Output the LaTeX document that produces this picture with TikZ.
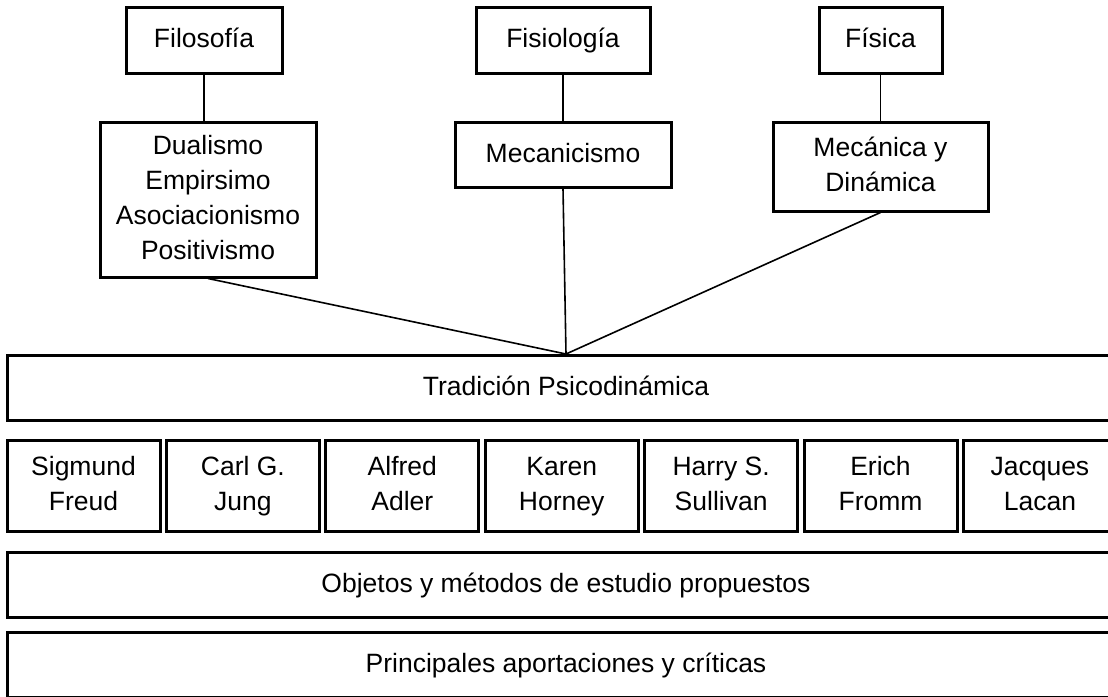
\documentclass[tikz,border=0pt]{standalone}
\usepackage{fontspec}
\setmainfont{Liberation Sans}
\usetikzlibrary{positioning}

\begin{document}
\begin{tikzpicture}[x=1pt,y=-1pt,
  every node/.style = {font=\fontsize{26.5}{35}\selectfont, align=center, inner sep=0pt, text depth=4pt},
  caja/.style = {draw, line width=3pt, minimum height=66pt},
  enlace/.style = {line width=1.6pt}]
		\useasboundingbox (0,0) rectangle (1108,696);
		\clip (0,0) rectangle (1108,696);
		% disciplinas
		\node[caja, minimum width=156pt] (filo) at (204,40) {Filosofía};
		\node[caja, minimum width=174pt] (fisio) at (563,40) {Fisiología};
		\node[caja, minimum width=123pt] (fis) at (880.5,40) {Física};
		% corrientes
		\node[caja, minimum width=216pt, minimum height=155pt] (dual) at (208,199.5)
			{Dualismo\\Empirsimo\\Asociacionismo\\Positivismo};
		\node[caja, minimum width=216pt, minimum height=65pt] (meca) at (563,154.5) {Mecanicismo};
		\node[caja, minimum width=215pt, minimum height=89pt] (mecd) at (880.5,166.5) {Mecánica y\\Dinámica};
		% tradicion
		\node[caja, minimum width=1118pt, minimum height=65pt] (trad) at (566,388) {Tradición Psicodinámica};
		% autores
		\foreach \nom/\autor [count=\i from 0] in {freud/{Sigmund\\Freud}, jung/{Carl G.\\Jung},
				adler/{Alfred\\Adler}, horney/{Karen\\Horney}, sull/{Harry S.\\Sullivan},
				fromm/{Erich\\Fromm}, lacan/{Jacques\\Lacan}}
			\node[caja, minimum width=153pt, minimum height=91pt] (\nom) at (83.5+159.4*\i,485.5) {\autor};
		% objetos y aportaciones
		\node[caja, minimum width=1118pt, minimum height=65pt] (obj) at (566,584.5) {Objetos y métodos de estudio propuestos};
		\node[caja, minimum width=1118pt, minimum height=65pt] (aport) at (566,665) {Principales aportaciones y críticas};
		% enlaces
		\draw[enlace] (filo.south) -- (filo.south |- dual.north);
		\draw[enlace] (fisio.south) -- (fisio.south |- meca.north);
		\draw[enlace] (fis.south) -- (fis.south |- mecd.north);
		\draw[enlace] (dual.south) -- (trad.north);
		\draw[enlace] (meca.south) -- (trad.north);
		\draw[enlace] (mecd.south) -- (trad.north);
\end{tikzpicture}
\end{document}
